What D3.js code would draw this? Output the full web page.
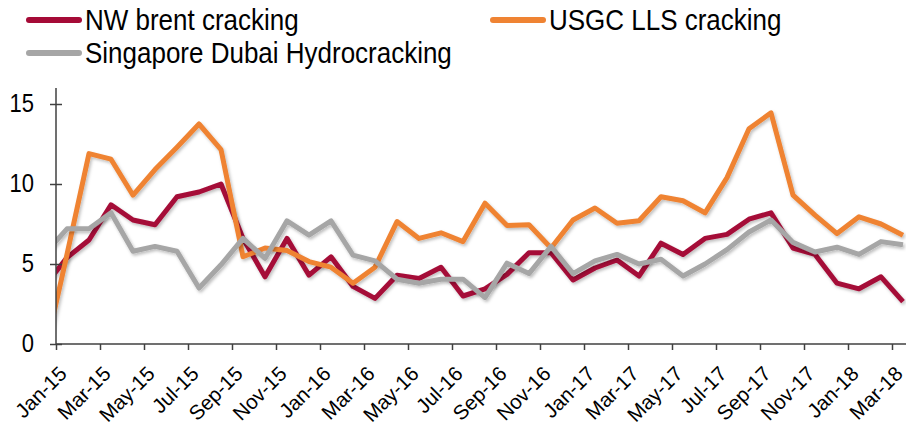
<!DOCTYPE html>
<html>
<head>
<meta charset="utf-8">
<script src="https://cdn.jsdelivr.net/npm/d3@7"></script>
<style>
  html, body { margin: 0; padding: 0; background: #fff; }
  svg { display: block; font-family: "Liberation Sans", Arial, sans-serif; }
</style>
</head>
<body>
<svg id="chart" width="906" height="425"></svg>
<script>
// Monthly refining margins, $/bbl. The first month (Dec-14) only feeds the lead-in segment at the axis edge.
const months = ["Dec-14",
  "Jan-15","Feb-15","Mar-15","Apr-15","May-15","Jun-15","Jul-15","Aug-15","Sep-15","Oct-15","Nov-15","Dec-15",
  "Jan-16","Feb-16","Mar-16","Apr-16","May-16","Jun-16","Jul-16","Aug-16","Sep-16","Oct-16","Nov-16","Dec-16",
  "Jan-17","Feb-17","Mar-17","Apr-17","May-17","Jun-17","Jul-17","Aug-17","Sep-17","Oct-17","Nov-17","Dec-17",
  "Jan-18","Feb-18","Mar-18"];

const nwBrent = [3.65,
  5.4, 6.5, 8.7, 7.75, 7.45, 9.2, 9.5, 10.0, 6.6, 4.2, 6.6, 4.3,
  5.45, 3.6, 2.85, 4.3, 4.1, 4.8, 3.0, 3.45, 4.35, 5.7, 5.7, 4.0,
  4.75, 5.25, 4.25, 6.3, 5.6, 6.6, 6.85, 7.8, 8.2, 6.0, 5.6, 3.8,
  3.45, 4.2, 2.65];

const usgcLls = [-0.55,
  5.6, 11.9, 11.55, 9.3, 10.9, 12.3, 13.75, 12.15, 5.45, 6.0, 5.85, 5.15,
  4.8, 3.8, 4.8, 7.65, 6.6, 6.95, 6.4, 8.8, 7.4, 7.45, 6.0, 7.75,
  8.5, 7.55, 7.7, 9.2, 8.95, 8.2, 10.4, 13.45, 14.45, 9.3, 8.05, 6.9,
  7.95, 7.5, 6.8];

const singaporeDubai = [5.67,
  7.2, 7.2, 8.2, 5.8, 6.1, 5.8, 3.5, 4.95, 6.6, 5.35, 7.7, 6.8,
  7.7, 5.55, 5.2, 4.05, 3.8, 4.05, 4.05, 2.9, 5.05, 4.4, 6.1, 4.4,
  5.2, 5.6, 5.0, 5.3, 4.25, 5.0, 5.9, 7.0, 7.75, 6.35, 5.75, 6.05,
  5.6, 6.4, 6.2];

const xTickLabels = ["Jan-15","Mar-15","May-15","Jul-15","Sep-15","Nov-15","Jan-16","Mar-16","May-16","Jul-16",
  "Sep-16","Nov-16","Jan-17","Mar-17","May-17","Jul-17","Sep-17","Nov-17","Jan-18","Mar-18"];
const yTicks = [0, 5, 10, 15];

const seriesNames = ["NW brent cracking", "USGC LLS cracking", "Singapore Dubai Hydrocracking"];
const seriesColors = ["#A50B37", "#EF8333", "#A6A6A6"];
const seriesValues = [nwBrent, usgcLls, singaporeDubai];

const svg = d3.select("#chart");
const plot = { left: 56, right: 914, top: 88, bottom: 344 };
const textStretch = 1.14; // glyphs are drawn slightly taller than wide

// Category index scale: each month occupies one slot, points sit at slot centres.
const x = d3.scaleLinear().domain([0.5, months.length - 0.5]).range([plot.left, plot.right]);
const y = d3.scaleLinear().domain([0, 16]).range([plot.bottom, plot.top]);

const defs = svg.append("defs");
defs.append("clipPath").attr("id", "plotClip")
  .append("rect").attr("x", plot.left).attr("y", 0)
  .attr("width", plot.right - plot.left).attr("height", 425);
const shadow = defs.append("filter").attr("id", "lineShadow")
  .attr("x", "-5%").attr("y", "-5%").attr("width", "110%").attr("height", "120%");
shadow.append("feDropShadow").attr("dx", 1.5).attr("dy", 2).attr("stdDeviation", 1.5)
  .attr("flood-color", "#000").attr("flood-opacity", 0.25);

// Series lines
const line = d3.line().x((d, i) => x(i)).y(d => y(d));
const lines = svg.append("g").attr("clip-path", "url(#plotClip)");
seriesValues.forEach((vals, s) => {
  lines.append("path")
    .datum(vals)
    .attr("d", line)
    .attr("fill", "none")
    .attr("stroke", seriesColors[s])
    .attr("stroke-width", 5)
    .attr("stroke-linejoin", "round")
    .attr("filter", "url(#lineShadow)");
});

// Y axis
const yAxis = svg.append("g").attr("transform", `translate(${plot.left},0)`)
  .call(d3.axisLeft(y).tickValues(yTicks).tickSize(6).tickFormat(""));
yAxis.select(".domain").attr("d", `M0,${plot.top}V${plot.bottom}`);
yAxis.selectAll(".tick line").attr("x1", 6).attr("x2", -6);
yAxis.selectAll(".domain, .tick line").attr("stroke", "#404040").attr("stroke-width", 1.5);
svg.append("g").selectAll("text")
  .data(yTicks)
  .join("text")
  .attr("transform", d => `translate(${plot.left - 22},${y(d) + 8}) scale(1,${textStretch})`)
  .attr("text-anchor", "end")
  .attr("font-size", 22)
  .attr("fill", "#000")
  .text(d => d);

// X axis: tick marks between every second month
const tickPos = d3.range(0.5, months.length - 0.5, 2);
const xAxis = svg.append("g").attr("transform", `translate(0,${plot.bottom})`)
  .call(d3.axisBottom(x).tickValues(tickPos).tickSize(6).tickFormat(""));
xAxis.select(".domain").attr("d", `M${plot.left},0H${plot.right}`);
xAxis.selectAll(".domain, .tick line").attr("stroke", "#404040").attr("stroke-width", 1.5);

// X labels, rotated, ending at the month they name
svg.append("g").selectAll("text")
  .data(xTickLabels)
  .join("text")
  .attr("transform", d => `translate(${x(months.indexOf(d)) + 1},${plot.bottom + 31}) rotate(-45)`)
  .attr("text-anchor", "end")
  .attr("font-size", 20.5)
  .attr("fill", "#000")
  .text(d => d);

// Legend
const legendItems = [
  { name: seriesNames[0], color: seriesColors[0], lx: 26, ly: 20 },
  { name: seriesNames[1], color: seriesColors[1], lx: 490, ly: 20 },
  { name: seriesNames[2], color: seriesColors[2], lx: 26, ly: 53 }
];
const legend = svg.append("g");
legendItems.forEach(it => {
  legend.append("line")
    .attr("x1", it.lx + 3).attr("x2", it.lx + 53)
    .attr("y1", it.ly).attr("y2", it.ly)
    .attr("stroke", it.color).attr("stroke-width", 6).attr("stroke-linecap", "round");
  legend.append("text")
    .attr("transform", `translate(${it.lx + 59},${it.ly + 10}) scale(1,${textStretch})`)
    .attr("font-size", 26).attr("fill", "#000")
    .text(it.name);
});
</script>
</body>
</html>
